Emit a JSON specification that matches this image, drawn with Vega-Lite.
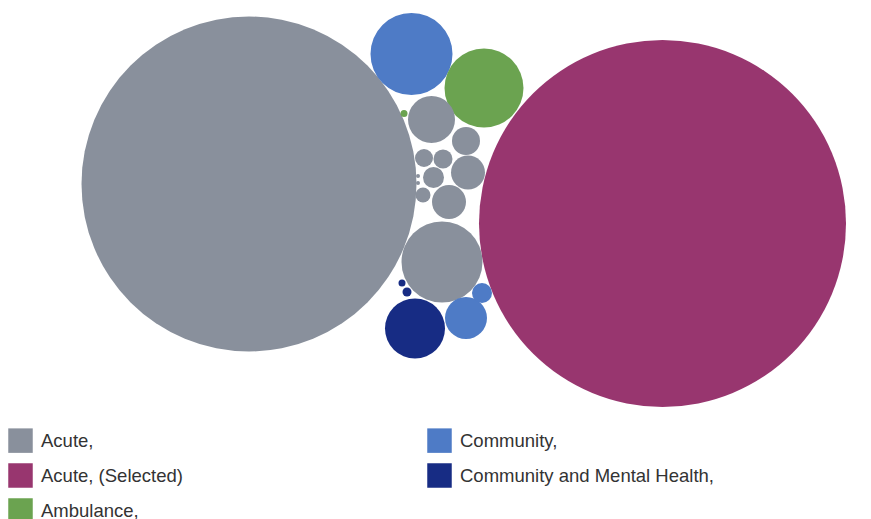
{
  "$schema": "https://vega.github.io/schema/vega-lite/v6.json",
  "width": 871,
  "height": 519,
  "padding": 0,
  "autosize": {"type": "none"},
  "background": "white",
  "config": {"view": {"stroke": null}},
  "data": {
    "values": [
      {"category": "Acute, (Selected)", "x": 662.5, "y": 223.5, "r": 183.5},
      {"category": "Acute,", "x": 249, "y": 184, "r": 167.5},
      {"category": "Community,", "x": 411.5, "y": 54, "r": 41},
      {"category": "Ambulance,", "x": 484, "y": 88, "r": 39.5},
      {"category": "Ambulance,", "x": 404, "y": 113.5, "r": 3.5},
      {"category": "Acute,", "x": 431.5, "y": 119.5, "r": 23.5},
      {"category": "Acute,", "x": 466, "y": 141, "r": 14},
      {"category": "Acute,", "x": 424, "y": 158, "r": 9},
      {"category": "Acute,", "x": 443, "y": 159, "r": 9.5},
      {"category": "Acute,", "x": 468, "y": 172.5, "r": 17},
      {"category": "Acute,", "x": 433.5, "y": 177.5, "r": 10.5},
      {"category": "Acute,", "x": 418, "y": 176, "r": 2},
      {"category": "Acute,", "x": 418, "y": 183, "r": 2},
      {"category": "Acute,", "x": 423, "y": 195, "r": 7.5},
      {"category": "Acute,", "x": 449, "y": 202, "r": 17},
      {"category": "Acute,", "x": 442, "y": 262, "r": 40.5},
      {"category": "Community and Mental Health,", "x": 402, "y": 283, "r": 3.5},
      {"category": "Community and Mental Health,", "x": 407, "y": 292, "r": 4.5},
      {"category": "Community and Mental Health,", "x": 415, "y": 328.5, "r": 30},
      {"category": "Community,", "x": 466, "y": 318, "r": 21},
      {"category": "Community,", "x": 482, "y": 293, "r": 10}
    ]
  },
  "mark": {"type": "circle", "opacity": 1, "strokeWidth": 0},
  "encoding": {
    "x": {"field": "x", "type": "quantitative", "scale": {"domain": [0, 871], "range": [0, 871], "nice": false, "zero": false}, "axis": null},
    "y": {"field": "y", "type": "quantitative", "scale": {"domain": [0, 519], "range": [0, 519], "nice": false, "zero": false}, "axis": null},
    "size": {"field": "r", "type": "quantitative", "scale": {"type": "pow", "exponent": 2, "domain": [0, 100], "range": [0, 40000]}, "legend": null},
    "color": {
      "field": "category",
      "type": "nominal",
      "scale": {
        "domain": ["Acute,", "Acute, (Selected)", "Ambulance,", "Community,", "Community and Mental Health,"],
        "range": ["#89909C", "#98366F", "#6BA350", "#4E7BC6", "#172C84"]
      },
      "legend": {
        "title": null,
        "orient": "none",
        "legendX": 8,
        "legendY": 428,
        "columns": 2,
        "columnPadding": 244,
        "rowPadding": 10,
        "symbolType": "square",
        "symbolSize": 600,
        "symbolStrokeWidth": 0,
        "symbolOpacity": 1,
        "labelFont": "Liberation Sans",
        "labelFontSize": 18.5,
        "labelColor": "#333333",
        "labelOffset": 8,
        "labelLimit": 400
      }
    }
  }
}
